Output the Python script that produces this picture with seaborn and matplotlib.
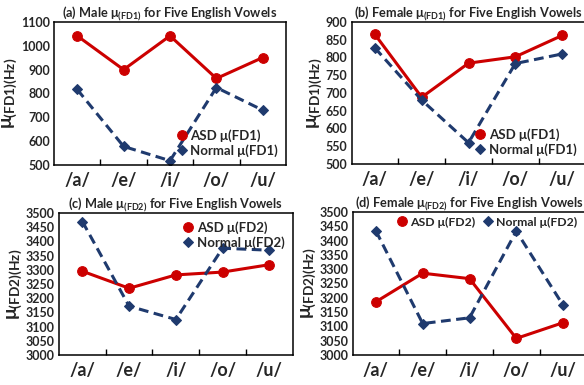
import matplotlib
matplotlib.use("Agg")
import matplotlib.pyplot as plt
import seaborn as sns
import pandas as pd

vowels = ["/a/", "/e/", "/i/", "/o/", "/u/"]

male_fd1_asd = [1042, 900, 1042, 863, 951]
male_fd1_normal = [817, 578, 518, 825, 730]
female_fd1_asd = [865, 688, 784, 802, 862]
female_fd1_normal = [827, 680, 560, 783, 810]
male_fd2_asd = [3295, 3235, 3282, 3292, 3318]
male_fd2_normal = [3470, 3172, 3125, 3376, 3369]
female_fd2_asd = [3186, 3286, 3267, 3058, 3113]
female_fd2_normal = [3434, 3110, 3130, 3433, 3174]

titles = [
    "(a) Male μ$_{\\mathbf{(FD1)}}$ for Five English Vowels",
    "(b) Female μ$_{\\mathbf{(FD1)}}$ for Five English Vowels",
    "(c) Male μ$_{\\mathbf{(FD2)}}$ for Five English Vowels",
    "(d) Female μ$_{\\mathbf{(FD2)}}$ for Five English Vowels",
]
ylabels = ["μ$_{\\mathbf{(FD1)(Hz)}}$"] * 2 + ["μ$_{\\mathbf{(FD2)(Hz)}}$"] * 2
asd_labels = ["ASD μ(FD1)", "ASD μ(FD1)", "ASD μ(FD2)", "ASD μ(FD2)"]
normal_labels = ["Normal μ(FD1)", "Normal μ(FD1)", "Normal μ(FD2)", "Normal μ(FD2)"]
ylims = [(500, 1100, 100), (500, 900, 50), (3000, 3500, 50), (3000, 3500, 50)]

sns.set_theme(style="white")
plt.rcParams["font.family"] = ["Lato", "DejaVu Sans"]
plt.rcParams["font.weight"] = "bold"
plt.rcParams["mathtext.fontset"] = "custom"
plt.rcParams["mathtext.bf"] = "Lato:bold"
plt.rcParams["mathtext.rm"] = "Lato:bold"

RED = "#CC0000"
BLUE = "#1F3A6E"

fig = plt.figure(figsize=(5.84, 3.85), dpi=100)
W, H = 584, 385
boxes = [(54, 286, 22, 165), (351.5, 585.5, 22, 164),
         (59, 292.7, 213, 355), (352.5, 586.5, 212, 355)]
axes = []
for (l, r, t, b) in boxes:
    axes.append(fig.add_axes([l / W, 1 - b / H, (r - l) / W, (b - t) / H]))

series = [(male_fd1_asd, male_fd1_normal), (female_fd1_asd, female_fd1_normal),
          (male_fd2_asd, male_fd2_normal), (female_fd2_asd, female_fd2_normal)]

legend_specs = [
    dict(loc="lower right", bbox_to_anchor=(1.0, 0.0), ncol=1, fontsize=9.5),
    dict(loc="lower right", bbox_to_anchor=(0.995, 0.0), ncol=1, fontsize=9.5),
    dict(loc="upper right", bbox_to_anchor=(1.0, 1.0), ncol=1, fontsize=9.5),
    dict(loc="upper right", bbox_to_anchor=(0.99, 1.02), ncol=2, fontsize=8.8),
]

for i, ax in enumerate(axes):
    asd, normal = series[i]
    df = pd.DataFrame({"vowel": vowels, "asd": asd, "normal": normal})
    sns.lineplot(data=df, x="vowel", y="asd", ax=ax, color=RED, marker="o",
                 markersize=7, markeredgecolor=RED, linewidth=2.2,
                 label=asd_labels[i], sort=False)
    sns.lineplot(data=df, x="vowel", y="normal", ax=ax, color=BLUE, marker="D",
                 markersize=5.5, markeredgecolor=BLUE, linewidth=2.2,
                 dashes=(3.2, 1.8), label=normal_labels[i], sort=False)
    lo, hi, step = ylims[i]
    ax.set_ylim(lo, hi)
    ax.set_yticks(range(lo, hi + 1, step))
    ax.set_xlim(-0.5, 4.5)
    ax.set_xticks(range(5))
    ax.set_xticklabels(vowels, fontsize=13, fontweight="bold")
    ax.set_xticks([0.5, 1.5, 2.5, 3.5], minor=True)
    ax.tick_params(axis="x", which="major", length=0, pad=5)
    ax.tick_params(axis="x", which="minor", direction="in", length=4,
                   width=1, color="black", bottom=True)
    ax.tick_params(axis="y", length=0, labelsize=9, pad=3)
    for lab in ax.get_yticklabels():
        lab.set_fontweight("bold")
    ax.set_xlabel("")
    ax.set_ylabel(ylabels[i], fontsize=14, fontweight="bold", labelpad=1)
    ax.set_title(titles[i], fontsize=9.2, fontweight="bold", pad=3)
    for sp in ax.spines.values():
        sp.set_color("black")
        sp.set_linewidth(1.1)
        sp.set_visible(True)
    leg = ax.legend(frameon=False, handlelength=0, handletextpad=0.65,
                    borderaxespad=0.2, labelspacing=0.2,
                    columnspacing=1.0, **legend_specs[i])
    for t in leg.get_texts():
        t.set_fontweight("bold")
    for h in leg.legend_handles:
        h.set_linestyle("none")

fig.savefig("out.png", dpi=100)
